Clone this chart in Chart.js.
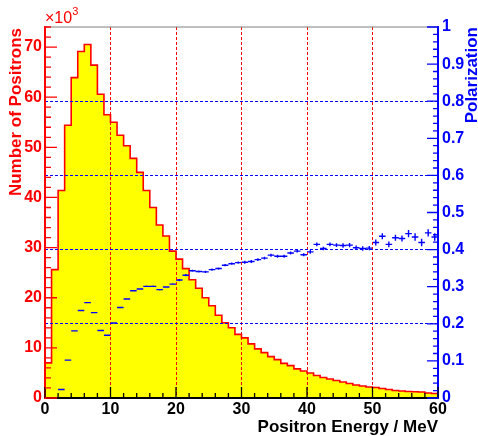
<!DOCTYPE html>
<html>
<head>
<meta charset="utf-8">
<script src="https://cdn.jsdelivr.net/npm/chart.js@4.4.1/dist/chart.umd.min.js"></script>
<style>
  html, body { margin: 0; padding: 0; background: #fff; }
  #wrap { width: 478px; height: 436px; }
</style>
</head>
<body>
<div id="wrap"><canvas id="canvasChart" width="478" height="436"></canvas></div>
<script>
// positron spectrum, 1 MeV bins, counts in units of 10^3
const binLowEdges = [0, 1, 2, 3, 4, 5, 6, 7, 8, 9,
    10, 11, 12, 13, 14, 15, 16, 17, 18, 19,
    20, 21, 22, 23, 24, 25, 26, 27, 28, 29,
    30, 31, 32, 33, 34, 35, 36, 37, 38, 39,
    40, 41, 42, 43, 44, 45, 46, 47, 48, 49,
    50, 51, 52, 53, 54, 55, 56, 57, 58, 59];
const positronCounts = [7.0, 25.6, 41.4, 54.4, 63.9, 69.1, 70.5, 66.4, 60.6, 56.5,
    55.0, 52.4, 50.3, 47.8, 45.0, 41.4, 38.0, 34.5, 32.3, 29.3,
    27.7, 25.8, 23.6, 21.9, 20.0, 18.4, 16.5, 15.0, 14.0, 12.7,
    12.0, 10.8, 9.8, 9.05, 8.25, 7.65, 6.9, 6.45, 5.8, 5.4,
    5.0, 4.5, 4.1, 3.8, 3.5, 3.2, 2.9, 2.6, 2.4, 2.2,
    2.1, 1.9, 1.7, 1.5, 1.4, 1.3, 1.25, 1.2, 1.0, 0.9];

// polarization per bin (bin centres), right axis
const polEnergy = [2.5, 3.5, 4.5, 5.5, 6.5, 7.5, 8.5, 9.5,
    10.5, 11.5, 12.5, 13.5, 14.5, 15.5, 16.5, 17.5, 18.5, 19.5,
    20.5, 21.5, 22.5, 23.5, 24.5, 25.5, 26.5, 27.5, 28.5, 29.5,
    30.5, 31.5, 32.5, 33.5, 34.5, 35.5, 36.5, 37.5, 38.5, 39.5,
    40.5, 41.5, 42.5, 43.5, 44.5, 45.5, 46.5, 47.5, 48.5, 49.5,
    50.5, 51.5, 52.5, 53.5, 54.5, 55.5, 56.5, 57.5, 58.5, 59.5];
const polValues = [0.023, 0.102, 0.181, 0.236, 0.257, 0.230, 0.182, 0.169,
    0.202, 0.244, 0.267, 0.289, 0.294, 0.301, 0.301, 0.292, 0.299, 0.307,
    0.318, 0.331, 0.343, 0.341, 0.340, 0.346, 0.349, 0.358, 0.362, 0.365,
    0.366, 0.368, 0.373, 0.377, 0.385, 0.382, 0.382, 0.391, 0.396, 0.386,
    0.394, 0.414, 0.403, 0.414, 0.412, 0.411, 0.412, 0.405, 0.403, 0.404,
    0.419, 0.436, 0.414, 0.432, 0.430, 0.443, 0.434, 0.419, 0.445, 0.434];
const polErrors = [0.001, 0.001, 0.001, 0.001, 0.001, 0.001, 0.001, 0.001,
    0.002, 0.002, 0.002, 0.002, 0.002, 0.002, 0.002, 0.002, 0.002, 0.002,
    0.003, 0.003, 0.003, 0.003, 0.003, 0.003, 0.003, 0.003, 0.003, 0.003,
    0.004, 0.004, 0.004, 0.004, 0.004, 0.004, 0.004, 0.004, 0.004, 0.004,
    0.005, 0.005, 0.005, 0.005, 0.005, 0.006, 0.006, 0.006, 0.006, 0.006,
    0.008, 0.008, 0.008, 0.008, 0.008, 0.010, 0.010, 0.010, 0.010, 0.010];

const energyTicks = [0, 10, 20, 30, 40, 50, 60];
const countTicks = [0, 10, 20, 30, 40, 50, 60, 70];
const polTicks = [0, 0.1, 0.2, 0.3, 0.4, 0.5, 0.6, 0.7, 0.8, 0.9, 1];
const polTickLabels = ['0', '0.1', '0.2', '0.3', '0.4', '0.5', '0.6', '0.7', '0.8', '0.9', '1'];

const FONT = 'Liberation Sans';

// histogram outline as stepped line
let histPoints = [{x: binLowEdges[0], y: 0}];
for (let i = 0; i < positronCounts.length; i++) {
    histPoints.push({x: binLowEdges[i], y: positronCounts[i]});
}
histPoints.push({x: 60, y: positronCounts[positronCounts.length - 1]});
histPoints.push({x: 60, y: 0});

let polPoints = polEnergy.map((e, i) => ({x: e, y: polValues[i]}));

const rootStyle = {
    id: 'rootStyle',
    afterDatasetsDraw(chart) {
        const {ctx, scales: {x, y2}} = chart;
        ctx.save();
        ctx.strokeStyle = '#0000ff';
        ctx.lineWidth = 1.4;
        ctx.beginPath();
        for (let i = 0; i < polEnergy.length; i++) {
            let px = x.getPixelForValue(polEnergy[i]);
            let py = y2.getPixelForValue(polValues[i]);
            ctx.moveTo(x.getPixelForValue(polEnergy[i] - 0.5), py);
            ctx.lineTo(x.getPixelForValue(polEnergy[i] + 0.5), py);
            ctx.moveTo(px, y2.getPixelForValue(polValues[i] - polErrors[i]));
            ctx.lineTo(px, y2.getPixelForValue(polValues[i] + polErrors[i]));
        }
        ctx.stroke();
        ctx.restore();
    },
    afterDraw(chart) {
        const {ctx, chartArea: a, scales: {x, y, y2}} = chart;
        ctx.save();

        // top frame line
        ctx.strokeStyle = '#808080';
        ctx.lineWidth = 1.2;
        ctx.beginPath();
        ctx.moveTo(a.left, a.top);
        ctx.lineTo(a.right, a.top);
        ctx.stroke();

        // inward tick marks
        ctx.lineWidth = 1.3;
        ctx.strokeStyle = '#000000';
        ctx.beginPath();
        for (let v = 0; v <= 60; v += 2) {
            let len = (v % 10 === 0) ? 11 : 5;
            let px = x.getPixelForValue(v);
            ctx.moveTo(px, a.bottom);
            ctx.lineTo(px, a.bottom - len);
        }
        ctx.stroke();

        ctx.strokeStyle = '#ff0000';
        ctx.beginPath();
        for (let v = 0; v <= 74; v += 2) {
            let len = (v % 10 === 0) ? 12 : 6;
            let py = y.getPixelForValue(v);
            ctx.moveTo(a.left, py);
            ctx.lineTo(a.left + len, py);
        }
        ctx.stroke();

        ctx.strokeStyle = '#0000ff';
        ctx.beginPath();
        for (let k = 0; k <= 50; k++) {
            let len = (k % 5 === 0) ? 11 : 5;
            let py = y2.getPixelForValue(k * 0.02);
            ctx.moveTo(a.right, py);
            ctx.lineTo(a.right - len, py);
        }
        ctx.stroke();

        // axis titles
        ctx.font = 'bold 17px "' + FONT + '"';
        ctx.textBaseline = 'alphabetic';

        ctx.fillStyle = '#000000';
        ctx.textAlign = 'right';
        ctx.fillText('Positron Energy / MeV', a.right, 432);

        ctx.save();
        ctx.fillStyle = '#ff0000';
        ctx.translate(21, 28);
        ctx.rotate(-Math.PI / 2);
        ctx.fillText('Number of Positrons', 0, 0);
        ctx.restore();

        ctx.save();
        ctx.fillStyle = '#0000ff';
        ctx.translate(477, 27);
        ctx.rotate(-Math.PI / 2);
        ctx.fillText('Polarization', 0, 0);
        ctx.restore();

        // x10^3 multiplier
        ctx.fillStyle = '#ff0000';
        ctx.textAlign = 'left';
        ctx.font = '16px "' + FONT + '"';
        ctx.fillText('\u00d710', a.left, 23);
        let w = ctx.measureText('\u00d710').width;
        ctx.font = '11px "' + FONT + '"';
        ctx.fillText('3', a.left + w, 15);

        ctx.restore();
    }
};

const config = {
    type: 'line',
    data: {
        datasets: [
            {
                label: 'Polarization',
                type: 'scatter',
                data: polPoints,
                yAxisID: 'y2',
                showLine: false,
                pointRadius: 0,
                order: 1
            },
            {
                label: 'Positrons',
                data: histPoints,
                yAxisID: 'y',
                stepped: 'before',
                fill: 'origin',
                backgroundColor: '#ffff00',
                borderColor: '#ff0000',
                borderWidth: 1.6,
                pointRadius: 0,
                order: 2
            }
        ]
    },
    options: {
        responsive: false,
        animation: false,
        events: [],
        layout: { padding: { top: 27, left: 0, right: 0, bottom: 0 } },
        plugins: {
            legend: { display: false },
            tooltip: { enabled: false }
        },
        scales: {
            x: {
                type: 'linear',
                position: 'bottom',
                min: 0,
                max: 60,
                afterBuildTicks: (scale) => { scale.ticks = energyTicks.map(v => ({value: v})); },
                afterFit: (scale) => { scale.height = 38; },
                ticks: {
                    autoSkip: false,
                    maxRotation: 0,
                    padding: 2,
                    color: '#000000',
                    font: { family: FONT, weight: 'bold', size: 16 }
                },
                grid: {
                    z: 1,
                    drawTicks: false,
                    lineWidth: 1,
                    color: (c) => (c.tick && c.tick.value > 0 && c.tick.value < 60) ? '#ff0000' : 'rgba(0,0,0,0)'
                },
                border: { z: 2, color: '#000000', width: 2, dash: [3, 2] }
            },
            y: {
                type: 'linear',
                position: 'left',
                min: 0,
                max: 74,
                afterBuildTicks: (scale) => { scale.ticks = countTicks.map(v => ({value: v})); },
                afterFit: (scale) => { scale.width = 45; },
                ticks: {
                    autoSkip: false,
                    padding: 3,
                    color: '#ff0000',
                    font: { family: FONT, weight: 'bold', size: 16 }
                },
                grid: { display: false, drawTicks: false },
                border: { z: 2, color: '#ff0000', width: 2 }
            },
            y2: {
                type: 'linear',
                position: 'right',
                min: 0,
                max: 1,
                afterBuildTicks: (scale) => { scale.ticks = polTicks.map(v => ({value: v})); },
                afterFit: (scale) => { scale.width = 40; },
                ticks: {
                    autoSkip: false,
                    padding: 4,
                    color: '#0000ff',
                    font: { family: FONT, weight: 'bold', size: 16 },
                    callback: (v, i) => polTickLabels[i]
                },
                grid: {
                    z: 1,
                    drawTicks: false,
                    lineWidth: 1,
                    color: (c) => {
                        if (!c.tick) return 'rgba(0,0,0,0)';
                        let k = Math.round(c.tick.value * 10);
                        return (k > 0 && k < 10 && k % 2 === 0) ? '#0000ff' : 'rgba(0,0,0,0)';
                    }
                },
                border: { z: 2, color: '#0000ff', width: 2, dash: [3, 2] }
            }
        }
    },
    plugins: [rootStyle]
};

const chart = new Chart(document.getElementById('canvasChart').getContext('2d'), config);
</script>
</body>
</html>
